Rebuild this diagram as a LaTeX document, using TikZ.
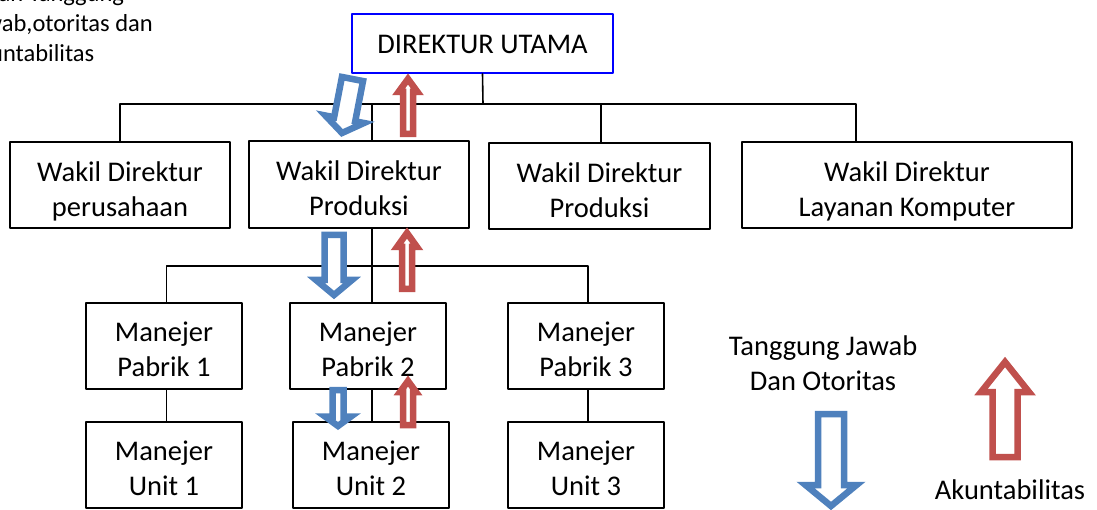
\documentclass[tikz,border=0pt]{standalone}
\usepackage{fontspec}
\setmainfont{Carlito}
\definecolor{acblue}{HTML}{4F81BD}
\definecolor{acred}{HTML}{C0504D}
\begin{document}
\begin{tikzpicture}[x=1pt,y=-1pt,line cap=round,line join=round,
    box/.style={draw,line width=1.8pt,minimum width=156pt,minimum height=86pt,inner sep=0pt},
    lbl/.style={align=center,inner sep=0pt,font=\fontsize{28.5}{35}\selectfont,
      execute at begin node=\strut,execute at end node=\strut},
    note/.style={align=left,inner sep=0pt,font=\fontsize{24.5}{30}\selectfont,
      execute at begin node=\strut,execute at end node=\strut},
    tie/.style={line width=1.6pt},
    hollow/.style={line width=6.5pt,fill=white,line join=miter}]
  \useasboundingbox (0,0) rectangle (1097,510);
  \clip (0,0) rectangle (1097,510);
  \node[note,anchor=west] (aliran) at (-35,27) {Aliran Tanggung\\Jawab,otoritas dan\\Akuntabilitas};
  % top
  \node[box,draw=blue,minimum width=261pt,minimum height=59pt,
    label={[lbl,yshift=-3pt]center:DIREKTUR UTAMA}] (dirut) at (482.5,43.5) {};
  % wakil direktur
  \node[box,minimum width=220pt,label={[lbl,yshift=-9pt]center:{Wakil Direktur\\perusahaan}}] (wdper) at (120,185) {};
  \node[box,minimum width=220pt,minimum height=87pt,label={[lbl,yshift=-9pt]center:{Wakil Direktur\\Produksi}}] (wdprod) at (359,184.5) {};
  \node[box,minimum width=221pt,label={[lbl,yshift=-9pt]center:{Wakil Direktur\\Produksi}}] (wdprodb) at (599.5,186) {};
  \node[box,minimum width=330pt,label={[lbl,yshift=-9pt]center:{Wakil Direktur\\Layanan Komputer}}] (wdlk) at (907,185) {};
  % manejer pabrik
  \node[box,label={[lbl,yshift=-8pt]center:{Manejer\\Pabrik 1}}] (mp1) at (164,346) {};
  \node[box,label={[lbl,yshift=-8pt]center:{Manejer\\Pabrik 2}}] (mp2) at (368,346) {};
  \node[box,label={[lbl,yshift=-8pt]center:{Manejer\\Pabrik 3}}] (mp3) at (586,346) {};
  % manejer unit
  \node[box,label={[lbl,yshift=-8pt]center:{Manejer\\Unit 1}}] (mu1) at (164,465) {};
  \node[box,label={[lbl,yshift=-8pt]center:{Manejer\\Unit 2}}] (mu2) at (371,465) {};
  \node[box,label={[lbl,yshift=-8pt]center:{Manejer\\Unit 3}}] (mu3) at (586,465) {};
  % legend
  \node[lbl] (legtj) at (823,368) {Tanggung Jawab\\Dan Otoritas};
  \node[lbl] (legak) at (1010,492) {Akuntabilitas};
  % lines
  \coordinate (busa) at (483,104);
  \coordinate (busb) at (372,266);
  \draw[tie] (dirut.south) -- (busa);
  \draw[tie] (wdper.north) |- (busa);
  \draw[tie] (busa) -| ([xshift=13pt]wdprod.north);
  \draw[tie] (busa) -| ([xshift=1.5pt]wdprodb.north);
  \draw[tie] (busa) -| ([xshift=-51pt]wdlk.north);
  \draw[tie] ([xshift=13pt]wdprod.south) -- ([xshift=4pt]mp2.north);
  \draw[tie] (busb) -| ([xshift=2.5pt]mp1.north);
  \draw[tie] (busb) -| ([xshift=2pt]mp3.north);
  \draw[tie] ([xshift=2.5pt]mp1.south) -- ([xshift=2.5pt]mu1.north);
  \draw[tie] ([xshift=4pt]mp2.south) -- ([xshift=1pt]mu2.north);
  \draw[tie] ([xshift=2pt]mp3.south) -- ([xshift=2pt]mu3.north);
  % block arrows
  \foreach \cx/\ya/\yb/\yc/\sw/\hw/\rot/\col in {
      342/78/119/133/10.75/19.7/-11/acblue,
      334/235/280/295/9.5/18/0/acblue,
      338/390/416.5/426/5.5/13/0/acblue,
      831/414/485/506/13/25.5/0/acblue,
      408/134/92/79/5/9.5/0/acred,
      407/289/247/233/5/10/0/acred,
      408/425/392/381/5/8/0/acred,
      1005/457/392/362/12.5/24/0/acred}
    \draw[hollow,draw=\col,rotate around={\rot:(\cx,\yc)}] (\cx-\sw,\ya) -- (\cx+\sw,\ya) -- (\cx+\sw,\yb)
      -- (\cx+\hw,\yb) -- (\cx,\yc) -- (\cx-\hw,\yb) -- (\cx-\sw,\yb) -- cycle;
\end{tikzpicture}
\end{document}
